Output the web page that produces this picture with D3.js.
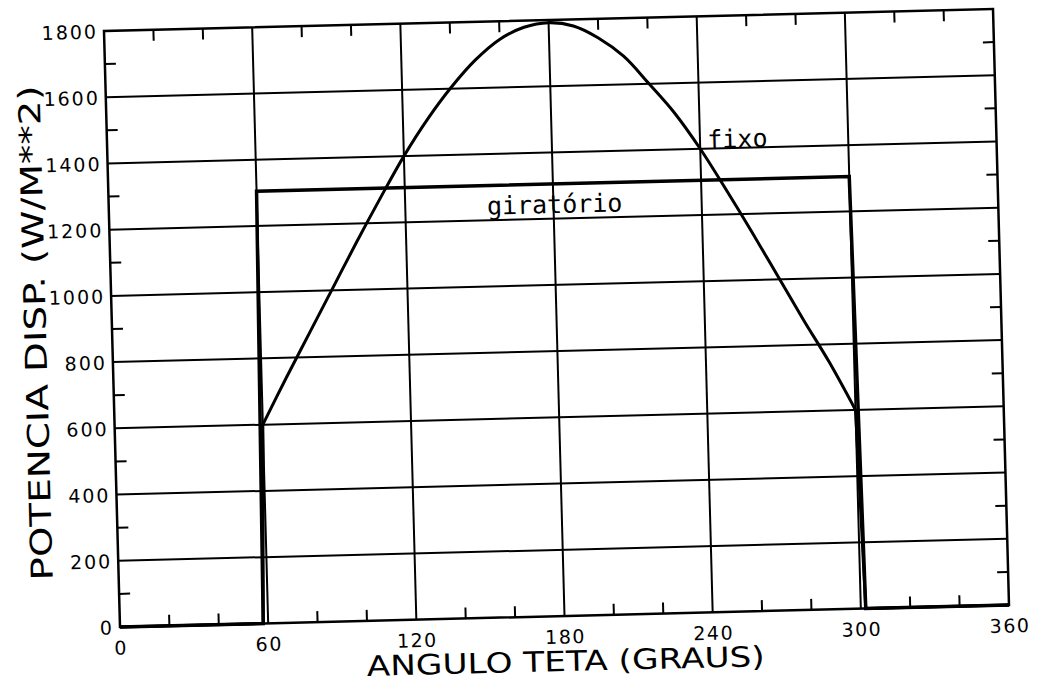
<!DOCTYPE html>
<html>
<head>
<meta charset="utf-8">
<script src="https://cdn.jsdelivr.net/npm/d3@7"></script>
<style>
  html, body { margin: 0; padding: 0; background: #fff; }
  svg { display: block; }
</style>
</head>
<body>
<svg id="chart" width="1039" height="684"></svg>
<script>
// ---- data ----
const xTicks = [0, 60, 120, 180, 240, 300, 360];
const yTicks = [0, 200, 400, 600, 800, 1000, 1200, 1400, 1600, 1800];
const xGrid = [60, 120, 180, 240, 300];
const yGrid = [200, 400, 600, 800, 1000, 1200, 1400, 1600];
const xMinor = [20, 40, 80, 100, 140, 160, 200, 220, 260, 280, 320, 340];
const yMinor = [100, 300, 500, 700, 900, 1100, 1300, 1500, 1700];

// "fixo" curve (fixed collector)
const fixoAngles = [60, 70, 80, 90, 100, 110, 120, 130, 140, 150, 160, 170, 180,
                    190, 200, 210, 220, 230, 240, 250, 260, 270, 280, 290, 300];
const fixoValues = [600, 740, 875, 1010, 1145, 1275, 1400, 1510, 1605, 1685, 1745, 1780, 1792,
                    1780, 1742, 1685, 1600, 1510, 1400, 1275, 1145, 1010, 875, 745, 600];
const fixoLeadAngles = [0, 58, 60];
const fixoLeadValues = [0, 0, 600];
const fixoTailAngles = [300, 302, 360];
const fixoTailValues = [600, 0, 0];

// "giratório" step (rotating collector)
const giraAngles = [0, 58, 60, 300, 302, 360];
const giraValues = [0, 0, 1305, 1305, 0, 0];

// ---- layout ----
const W = 889, H = 596;
const svg = d3.select("#chart");
svg.append("rect").attr("width", 1039).attr("height", 684).attr("fill", "#fff");

// the scanned page is slightly skewed: map the plot frame with an affine matrix
const g = svg.append("g")
  .attr("transform", `matrix(1,${-22 / 889},${16 / 596},1,104,31)`);

const x = d3.scaleLinear().domain([0, 360]).range([0, W]);
const y = d3.scaleLinear().domain([0, 1800]).range([H, 0]);

// grid
g.append("g").selectAll("line").data(xGrid).join("line")
  .attr("x1", d => x(d)).attr("x2", d => x(d)).attr("y1", 0).attr("y2", H)
  .attr("stroke", "#000").attr("stroke-width", 2);
g.append("g").selectAll("line").data(yGrid).join("line")
  .attr("x1", 0).attr("x2", W).attr("y1", d => y(d)).attr("y2", d => y(d))
  .attr("stroke", "#000").attr("stroke-width", 2);

// minor ticks (inward, all four sides)
const tl = 11;
const tk = g.append("g").attr("stroke", "#000").attr("stroke-width", 2);
xMinor.forEach(v => {
  tk.append("line").attr("x1", x(v)).attr("x2", x(v)).attr("y1", H).attr("y2", H - tl);
  tk.append("line").attr("x1", x(v)).attr("x2", x(v)).attr("y1", 0).attr("y2", tl);
});
yMinor.forEach(v => {
  tk.append("line").attr("x1", 0).attr("x2", tl).attr("y1", y(v)).attr("y2", y(v));
  tk.append("line").attr("x1", W).attr("x2", W - tl).attr("y1", y(v)).attr("y2", y(v));
});

// frame
g.append("rect").attr("x", 0).attr("y", 0).attr("width", W).attr("height", H)
  .attr("fill", "none").attr("stroke", "#000").attr("stroke-width", 2.5);

// series
const lin = d3.line().x(d => x(d[0])).y(d => y(d[1]));
const smooth = d3.line().x(d => x(d[0])).y(d => y(d[1])).curve(d3.curveCatmullRom);

g.append("path").datum(d3.zip(giraAngles, giraValues))
  .attr("d", lin).attr("fill", "none").attr("stroke", "#000")
  .attr("stroke-width", 3.5).attr("stroke-linejoin", "miter");

g.append("path").datum(d3.zip(fixoLeadAngles, fixoLeadValues))
  .attr("d", lin).attr("fill", "none").attr("stroke", "#000").attr("stroke-width", 3);
g.append("path").datum(d3.zip(fixoTailAngles, fixoTailValues))
  .attr("d", lin).attr("fill", "none").attr("stroke", "#000").attr("stroke-width", 3);
g.append("path").datum(d3.zip(fixoAngles, fixoValues))
  .attr("d", smooth).attr("fill", "none").attr("stroke", "#000").attr("stroke-width", 3);

// axes labels via d3 axes
const xAxis = g.append("g").attr("transform", `translate(0,${H})`)
  .call(d3.axisBottom(x).tickValues(xTicks).tickSize(0).tickPadding(14).tickFormat(d3.format("d")));
const yAxis = g.append("g")
  .call(d3.axisLeft(y).tickValues(yTicks).tickSize(0).tickPadding(6).tickFormat(d3.format("d")));
[xAxis, yAxis].forEach(a => {
  a.select(".domain").remove();
  a.selectAll("text").attr("font-family", "DejaVu Sans, sans-serif")
    .attr("font-size", 19).attr("fill", "#000");
});
yAxis.selectAll("text").attr("dy", "0.36em").attr("letter-spacing", 2);
xAxis.selectAll("text").attr("letter-spacing", 1.5);

// axis titles
g.append("text")
  .attr("x", x(180)).attr("y", H + 55)
  .attr("text-anchor", "middle")
  .attr("font-family", "DejaVu Sans, sans-serif").attr("font-size", 28)
  .attr("textLength", 398).attr("lengthAdjust", "spacingAndGlyphs")
  .text("ANGULO TETA (GRAUS)");

g.append("text")
  .attr("transform", `translate(-66,${y(900) + 2}) rotate(-90)`)
  .attr("text-anchor", "middle")
  .attr("font-family", "DejaVu Sans, sans-serif").attr("font-size", 30)
  .attr("textLength", 495).attr("lengthAdjust", "spacingAndGlyphs")
  .text("POTENCIA DISP. (W/M**2)");

// series annotations
g.append("text").attr("x", 600).attr("y", 132)
  .attr("font-family", "DejaVu Sans Mono, monospace").attr("font-size", 25)
  .text("fixo");
g.append("text").attr("x", 378).attr("y", 193)
  .attr("font-family", "DejaVu Sans Mono, monospace").attr("font-size", 25)
  .text("giratório");
</script>
</body>
</html>
